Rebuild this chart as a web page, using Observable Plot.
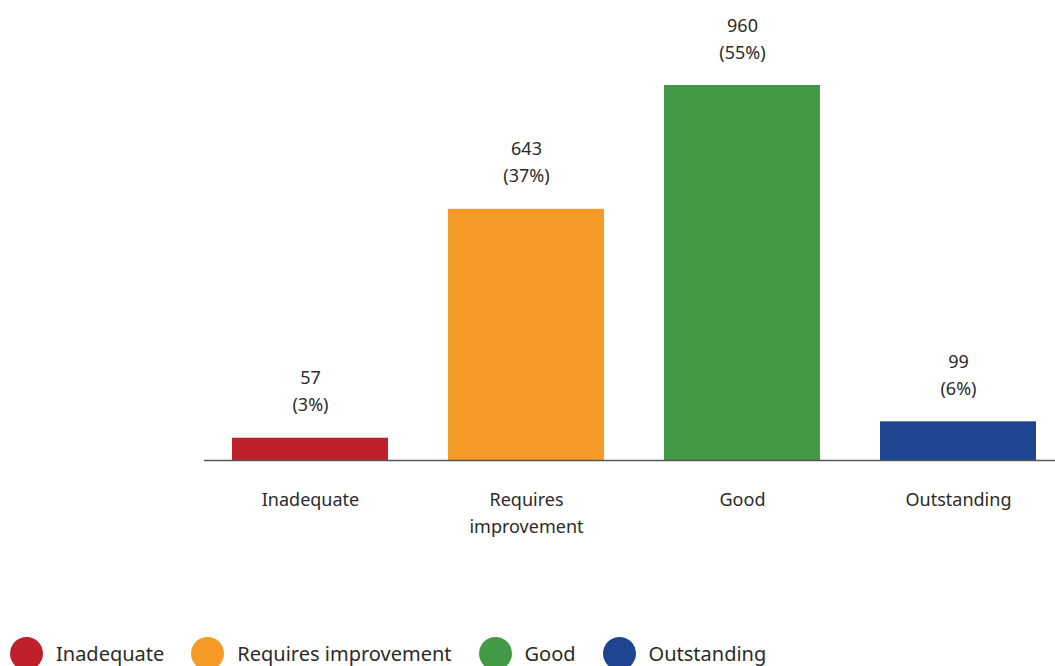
<!DOCTYPE html>
<html>
<head>
<meta charset="utf-8">
<script src="https://cdn.jsdelivr.net/npm/d3@7"></script>
<script src="https://cdn.jsdelivr.net/npm/@observablehq/plot@0.6"></script>
<style>
  body { margin: 0; background: #fff; font-family: "Noto Sans", sans-serif; color: #2b2b2b; overflow: hidden; }
  #legend { display: flex; align-items: center; position: absolute; left: 10px; top: 637px; font-size: 20px; }
  .item { display: flex; align-items: center; margin-right: 27px; }
  .sw { width: 33px; height: 33px; border-radius: 50%; margin-right: 13px; }
</style>
</head>
<body>
<div id="chart"></div>
<div id="legend"></div>
<script>
const categories = ["Inadequate", "Requires improvement", "Good", "Outstanding"];
const tickLabels = ["Inadequate", "Requires\nimprovement", "Good", "Outstanding"];
const counts = [57, 643, 960, 99];
const percents = [3, 37, 55, 6];
const colors = ["#c0202a", "#f59a27", "#439a46", "#1f4590"];

const data = categories.map((c, i) => ({
  category: c,
  count: counts[i],
  label: `${counts[i]}\n(${percents[i]}%)`,
  tick: tickLabels[i]
}));

const W = 1055, H = 560;
const chart = Plot.plot({
  width: W,
  height: H,
  marginTop: 85,
  marginBottom: 100,
  marginLeft: 204,
  marginRight: 0,
  style: { fontFamily: "Noto Sans, sans-serif", color: "#2b2b2b", background: "#fff" },
  x: { domain: categories, range: [201.5, 1065.5], paddingInner: 0.278, paddingOuter: 0.139, axis: null },
  y: { domain: [0, 960], axis: null },
  color: { domain: categories, range: colors },
  marks: [
    Plot.barY(data, { x: "category", y: "count", fill: "category" }),
    Plot.ruleY([0], { stroke: "#555", strokeWidth: 1.5 }),
    Plot.text(data, { x: "category", y: "count", text: "label", lineAnchor: "bottom", dy: -27, fontSize: 18, lineHeight: 1.5, fill: "#2b2b2b" }),
    Plot.text(data, { x: "category", y: 0, text: "tick", lineAnchor: "top", dy: 26, fontSize: 18, lineHeight: 1.5, fill: "#2b2b2b" })
  ]
});
document.getElementById("chart").appendChild(chart);

const legend = document.getElementById("legend");
categories.forEach((c, i) => {
  const item = document.createElement("div");
  item.className = "item";
  const sw = document.createElement("div");
  sw.className = "sw";
  sw.style.background = colors[i];
  const t = document.createElement("span");
  t.textContent = c;
  item.appendChild(sw);
  item.appendChild(t);
  legend.appendChild(item);
});
</script>
</body>
</html>
